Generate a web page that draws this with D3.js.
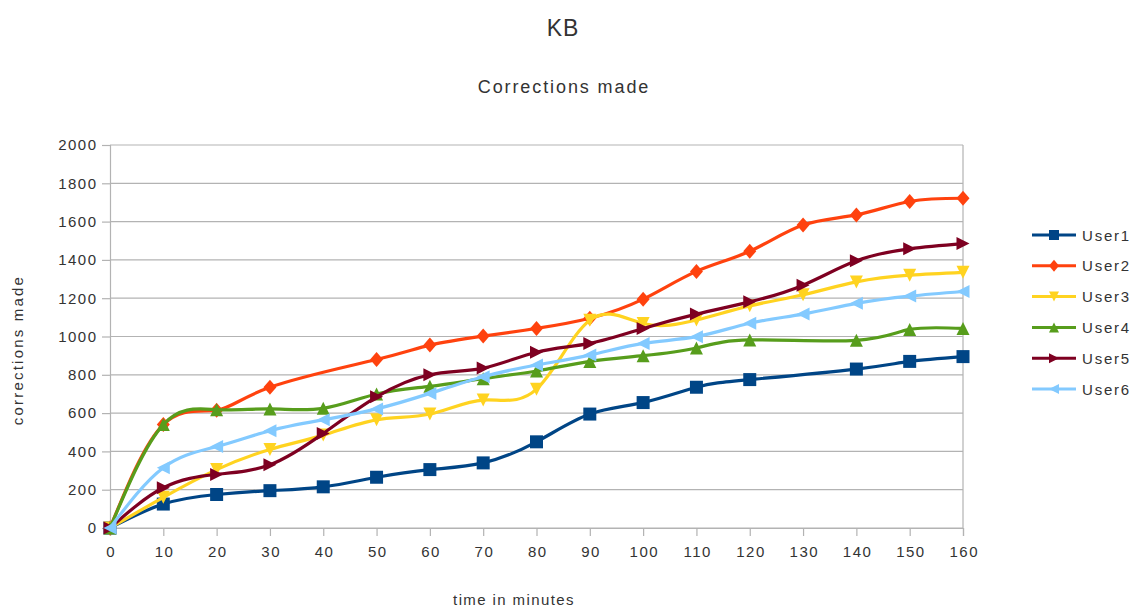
<!DOCTYPE html>
<html>
<head>
<meta charset="utf-8">
<script src="https://cdn.jsdelivr.net/npm/d3@7/dist/d3.min.js"></script>
<style>
  html, body { margin: 0; padding: 0; background: #fff; }
  svg { display: block; font-family: "Liberation Sans", Arial, sans-serif; }
</style>
</head>
<body>
<svg id="chart" width="1139" height="608"></svg>
<script>
// ---- data ----
const minutes = [0,10,20,30,40,50,60,70,80,90,100,110,120,130,140,150,160];
const seriesNames = ["User1","User2","User3","User4","User5","User6"];
const user1 = [0,125,175,195,215,265,305,340,450,595,655,735,775,null,830,870,895];
const user2 = [0,540,615,735,null,880,955,1002,1042,1095,1195,1340,1445,1582,1635,1705,1722];
const user3 = [0,160,305,410,485,565,595,668,725,1085,1068,1086,1160,1218,1285,1320,1335];
const user4 = [0,540,618,622,625,700,740,780,820,870,900,940,982,null,980,1037,1042];
const user5 = [0,210,280,330,494,685,800,835,918,964,1042,1117,1181,1268,1395,1458,1485];
const user6 = [0,315,425,508,565,622,703,790,851,903,964,999,1069,1117,1173,1211,1235];
const yTicks = [0,200,400,600,800,1000,1200,1400,1600,1800,2000];
const xTicks = minutes;
const colors = ["#004586","#ff420e","#ffd320","#579d1c","#7e0021","#83caff"];
const markers = ["square","diamond","down","up","right","left"];
const allSeries = [user1,user2,user3,user4,user5,user6];

// ---- layout ----
const svg = d3.select("#chart");
const L = 110, R = 963, T = 145, B = 528;
const x = d3.scaleLinear().domain([0,160]).range([L,R]);
const y = d3.scaleLinear().domain([0,2000]).range([B,T]);
const gridColor = "#b3b3b3";
const textColor = "#333";

function markerPath(type, s) {
  const h = s/2;
  switch (type) {
    case "square": return `M${-h},${-h}H${h}V${h}H${-h}Z`;
    case "diamond": return `M0,${-h-1}L${h},0L0,${h+1}L${-h},0Z`;
    case "up": return `M0,${-h}L${h},${h}L${-h},${h}Z`;
    case "down": return `M${-h},${-h}L${h},${-h}L0,${h}Z`;
    case "right": return `M${-h},${-h}L${h},0L${-h},${h}Z`;
    case "left": return `M${h},${-h}L${-h},0L${h},${h}Z`;
  }
}

// titles
svg.append("text").attr("x", 563).attr("y", 36).attr("text-anchor","middle")
  .attr("font-size", 23).attr("letter-spacing", 1).attr("fill", textColor).text("KB");
svg.append("text").attr("x", 564).attr("y", 93).attr("text-anchor","middle")
  .attr("font-size", 18).attr("letter-spacing", 1.9).attr("fill", textColor).text("Corrections made");

// grid
svg.append("g").selectAll("line").data(yTicks).join("line")
  .attr("x1", L).attr("x2", R).attr("y1", d => y(d)).attr("y2", d => y(d))
  .attr("stroke", gridColor).attr("stroke-width", 1.2);
// right border
svg.append("line").attr("x1", R).attr("x2", R).attr("y1", T).attr("y2", B)
  .attr("stroke", gridColor).attr("stroke-width", 1.2);

// y axis
const yAxis = d3.axisLeft(y).tickValues(yTicks).tickSize(8).tickPadding(6).tickFormat(d3.format("d"));
const gy = svg.append("g").attr("transform", `translate(${L},0)`).call(yAxis);
gy.select(".domain").attr("stroke", gridColor).attr("stroke-width", 1.2);
gy.selectAll(".tick line").attr("stroke", gridColor).attr("stroke-width", 1.2);
gy.selectAll(".tick text").attr("font-size", 15).attr("letter-spacing", 1.5)
  .attr("fill", textColor).attr("font-family", "Liberation Sans, Arial, sans-serif")
  .attr("dx", 1.5);

// x axis
const xAxis = d3.axisBottom(x).tickValues(xTicks).tickSize(8).tickPadding(10).tickFormat(d3.format("d"));
const gx = svg.append("g").attr("transform", `translate(0,${B})`).call(xAxis);
gx.select(".domain").attr("stroke", gridColor).attr("stroke-width", 1.2);
gx.selectAll(".tick line").attr("stroke", gridColor).attr("stroke-width", 1.2);
gx.selectAll(".tick text").attr("font-size", 15).attr("letter-spacing", 1.5)
  .attr("fill", textColor).attr("font-family", "Liberation Sans, Arial, sans-serif")
  .attr("dx", 0.75);

// axis titles
svg.append("text").attr("x", 514).attr("y", 605).attr("text-anchor","middle")
  .attr("font-size", 15).attr("letter-spacing", 1.4).attr("fill", textColor).text("time in minutes");
svg.append("text").attr("transform", "translate(23,350) rotate(-90)").attr("text-anchor","middle")
  .attr("font-size", 15).attr("letter-spacing", 2.2).attr("fill", textColor).text("corrections made");

// series
const line = d3.line().curve(d3.curveNatural).x(d => x(d[0])).y(d => y(d[1]));
allSeries.forEach((vals, i) => {
  const pts = minutes.map((m, j) => [m, vals[j]]).filter(d => d[1] !== null);
  const g = svg.append("g");
  g.append("path").attr("d", line(pts)).attr("fill","none")
    .attr("stroke", colors[i]).attr("stroke-width", 3.2).attr("stroke-linejoin","round");
  g.selectAll("path.m").data(pts).join("path").attr("class","m")
    .attr("transform", d => `translate(${x(d[0])},${y(d[1])})`)
    .attr("d", markerPath(markers[i], 13)).attr("fill", colors[i]);
});

// legend
const lg = svg.append("g");
seriesNames.forEach((name, i) => {
  const ly = 235 + i * 30.8;
  lg.append("line").attr("x1", 1032).attr("x2", 1076).attr("y1", ly).attr("y2", ly)
    .attr("stroke", colors[i]).attr("stroke-width", 3);
  lg.append("path").attr("transform", `translate(1054,${ly})`)
    .attr("d", markerPath(markers[i], 10)).attr("fill", colors[i]);
  lg.append("text").attr("x", 1082).attr("y", ly + 5.5)
    .attr("font-size", 15).attr("letter-spacing", 1.8).attr("fill", textColor).text(name);
});
</script>
</body>
</html>
